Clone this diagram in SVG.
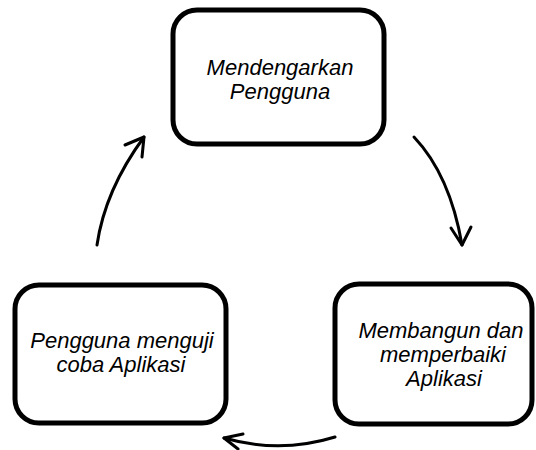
<svg xmlns="http://www.w3.org/2000/svg" width="536" height="450" viewBox="0 0 536 450">
<style>
.box{fill:#fff;stroke:#000;stroke-width:5}
.lbl{font-family:"Liberation Sans",Arial,sans-serif;font-style:italic;font-size:22px;fill:#000;text-anchor:middle}
.conn{fill:none;stroke:#000;stroke-width:3;stroke-linecap:round}
.head{fill:none;stroke:#000;stroke-width:3;stroke-linecap:round;stroke-linejoin:round}
</style>
<rect width="536" height="450" fill="#fff"/>
<g id="node-mendengarkan">
<rect class="box" x="173" y="10" width="211" height="134" rx="24"/>
<text class="lbl" x="280" y="75">Mendengarkan</text>
<text class="lbl" x="280" y="99">Pengguna</text>
</g>
<g id="node-membangun">
<rect class="box" x="335" y="284" width="197" height="140" rx="24"/>
<text class="lbl" x="441" y="338">Membangun dan</text>
<text class="lbl" x="443" y="362">memperbaiki</text>
<text class="lbl" x="444" y="386">Aplikasi</text>
</g>
<g id="node-pengguna">
<rect class="box" x="15" y="285" width="211" height="138" rx="24"/>
<text class="lbl" x="122" y="348">Pengguna menguji</text>
<text class="lbl" x="121" y="372">coba Aplikasi</text>
</g>
<g id="connectors">
<path class="conn" d="M414,137 Q450,175 462,245"/>
<polyline class="head" points="451,228 462,245 471,227"/>
<path class="conn" d="M335,437 Q280,454 224,438"/>
<polyline class="head" points="243,434 224,438 238,449"/>
<path class="conn" d="M97,245 Q105,190 144,137"/>
<polyline class="head" points="125,145 144,137 142,157"/>
</g>
</svg>
